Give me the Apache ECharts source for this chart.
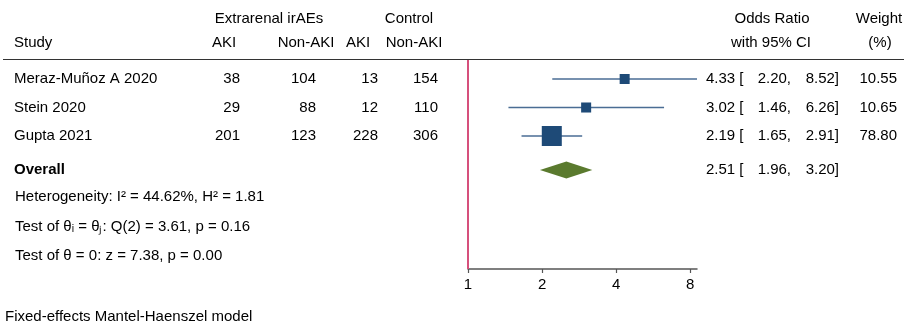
<!DOCTYPE html>
<html>
<head>
<meta charset="utf-8">
<script src="https://cdn.jsdelivr.net/npm/echarts@6/dist/echarts.min.js"></script>
<style>
  html, body { margin: 0; padding: 0; background: #ffffff; }
  #chart { width: 904px; height: 323px; }
</style>
</head>
<body>
<div id="chart"></div>
<script>
// ---- data ----
const studies = ['Meraz-Muñoz A 2020', 'Stein 2020', 'Gupta 2021'];
const extAki = [38, 29, 201];
const extNonAki = [104, 88, 123];
const ctrlAki = [13, 12, 228];
const ctrlNonAki = [154, 110, 306];
const oddsRatio = [4.33, 3.02, 2.19];
const ciLow = [2.20, 1.46, 1.65];
const ciHigh = [8.52, 6.26, 2.91];
const weights = [10.55, 10.65, 78.80];
const overallLabel = ['Overall'];
const overallOR = [2.51];
const overallLow = [1.96];
const overallHigh = [3.20];
const axisTicks = [1, 2, 4, 8];
const stats = [
  'Heterogeneity: I² = 44.62%, H² = 1.81',
  'Test of θᵢ = θⱼ: Q(2) = 3.61, p = 0.16',
  'Test of θ = 0: z = 7.38, p = 0.00'
];
const modelNote = 'Fixed-effects Mantel-Haenszel model';

// ---- layout ----
const FONT_FAMILY = '"Liberation Sans", Arial, Helvetica, sans-serif';
const FONT_SIZE = 15;
const font = (bold) => (bold ? 'bold ' : '') + FONT_SIZE + 'px ' + FONT_FAMILY;
const OVERALL_ROW = 4.19;
const STAT_ROWS = [5.15, 6.2, 7.22];

const COL = {
  study: 14, extAki: 240, extNonAki: 316, ctrlAki: 378, ctrlNonAki: 438,
  or: 706, lo: 791, hi: 839, weight: 897, stat: 15
};

function txt(s, x, y, align, bold) {
  return {
    type: 'text',
    style: {
      text: s, x: x, y: y, textAlign: align, textVerticalAlign: 'middle',
      fill: '#000000', font: font(bold)
    }
  };
}
const fmt = (v) => v.toFixed(2);

const chart = echarts.init(document.getElementById('chart'), null, { renderer: 'canvas' });

const option = {
  animation: false,
  backgroundColor: '#ffffff',
  grid: { left: 468, right: 207, top: 60, bottom: 54, containLabel: false },
  xAxis: {
    type: 'log',
    logBase: 2,
    min: 1,
    max: Math.max(...ciHigh),
    axisLine: { show: true, lineStyle: { color: '#555555', width: 1.5 } },
    axisTick: { show: true, length: 4, customValues: axisTicks, lineStyle: { color: '#555555', width: 1.2 } },
    axisLabel: {
      customValues: axisTicks, margin: 8, color: '#000000',
      fontSize: FONT_SIZE, fontFamily: FONT_FAMILY,
      formatter: (v) => String(Math.round(v))
    },
    splitLine: { show: false },
    minorTick: { show: false }
  },
  yAxis: {
    type: 'value', inverse: true, min: 0.333, max: 7.667, show: false
  },
  graphic: [
    // column headers
    txt('Extrarenal irAEs', 269, 19, 'center'),
    txt('Control', 409, 19, 'center'),
    txt('Odds Ratio', 772, 19, 'center'),
    txt('Weight', 879, 19, 'center'),
    txt('Study', 14, 43, 'left'),
    txt('AKI', 224, 43, 'center'),
    txt('Non-AKI', 306, 43, 'center'),
    txt('AKI', 358, 43, 'center'),
    txt('Non-AKI', 414, 43, 'center'),
    txt('with 95% CI', 771, 43, 'center'),
    txt('(%)', 880, 43, 'center'),
    {
      type: 'line',
      shape: { x1: 3, y1: 59.5, x2: 904, y2: 59.5 },
      style: { stroke: '#333333', lineWidth: 1.2 }
    },
    txt(modelNote, 5, 317, 'left')
  ],
  series: [
    {
      // null line at OR = 1
      type: 'custom',
      name: 'reference',
      data: [],
      renderItem: () => null,
      markLine: {
        silent: true,
        symbol: 'none',
        label: { show: false },
        lineStyle: { color: '#d6507c', width: 2, type: 'solid' },
        data: [{ xAxis: 1 }]
      }
    },
    {
      // study rows: counts, estimates and weights
      type: 'custom',
      name: 'table',
      clip: false,
      data: studies.map((s, i) => [oddsRatio[i], i + 1, i]),
      encode: { x: 0, y: 1 },
      renderItem: (params, api) => {
        const i = api.value(2);
        const y = api.coord([1, api.value(1)])[1];
        return {
          type: 'group',
          children: [
            txt(studies[i], COL.study, y, 'left'),
            txt(String(extAki[i]), COL.extAki, y, 'right'),
            txt(String(extNonAki[i]), COL.extNonAki, y, 'right'),
            txt(String(ctrlAki[i]), COL.ctrlAki, y, 'right'),
            txt(String(ctrlNonAki[i]), COL.ctrlNonAki, y, 'right'),
            txt(fmt(oddsRatio[i]) + ' [', COL.or, y, 'left'),
            txt(fmt(ciLow[i]) + ',', COL.lo, y, 'right'),
            txt(fmt(ciHigh[i]) + ']', COL.hi, y, 'right'),
            txt(fmt(weights[i]), COL.weight, y, 'right')
          ]
        };
      }
    },
    {
      // confidence intervals with weight-scaled boxes
      type: 'custom',
      name: 'studies',
      clip: false,
      data: studies.map((s, i) => [ciLow[i], ciHigh[i], i + 1, oddsRatio[i], weights[i]]),
      encode: { x: [0, 1, 3], y: 2 },
      renderItem: (params, api) => {
        const row = api.value(2);
        const p0 = api.coord([api.value(0), row]);
        const p1 = api.coord([api.value(1), row]);
        const pc = api.coord([api.value(3), row]);
        const w = api.value(4);
        const side = 10 * Math.pow(w / 10.55, 0.345);
        return {
          type: 'group',
          children: [
            {
              type: 'line',
              shape: { x1: p0[0], y1: p0[1], x2: p1[0], y2: p1[1] },
              style: { stroke: '#4a6d94', lineWidth: 1.3 }
            },
            {
              type: 'rect',
              shape: { x: pc[0] - side / 2, y: pc[1] - side / 2, width: side, height: side },
              style: { fill: '#1e4a77' }
            }
          ]
        };
      }
    },
    {
      // pooled estimate diamond and its text
      type: 'custom',
      name: 'overall',
      clip: false,
      data: overallOR.map((v, i) => [overallLow[i], overallHigh[i], OVERALL_ROW, v, i]),
      encode: { x: [0, 1, 3], y: 2 },
      renderItem: (params, api) => {
        const row = api.value(2);
        const i = api.value(4);
        const pl = api.coord([api.value(0), row]);
        const ph = api.coord([api.value(1), row]);
        const pc = api.coord([api.value(3), row]);
        const h = 8.5;
        const y = pc[1];
        return {
          type: 'group',
          children: [
            {
              type: 'polygon',
              shape: { points: [[pl[0], y], [pc[0], y - h], [ph[0], y], [pc[0], y + h]] },
              style: { fill: '#5a7a2e' }
            },
            txt(overallLabel[i], COL.study, y, 'left', true),
            txt(fmt(overallOR[i]) + ' [', COL.or, y, 'left'),
            txt(fmt(overallLow[i]) + ',', COL.lo, y, 'right'),
            txt(fmt(overallHigh[i]) + ']', COL.hi, y, 'right')
          ]
        };
      }
    },
    {
      // heterogeneity and test statistics
      type: 'custom',
      name: 'stats',
      clip: false,
      data: stats.map((s, i) => [1, STAT_ROWS[i], i]),
      encode: { x: 0, y: 1 },
      renderItem: (params, api) => {
        const y = api.coord([1, api.value(1)])[1];
        return txt(stats[api.value(2)], COL.stat, y, 'left');
      }
    }
  ]
};

chart.setOption(option);
</script>
</body>
</html>
